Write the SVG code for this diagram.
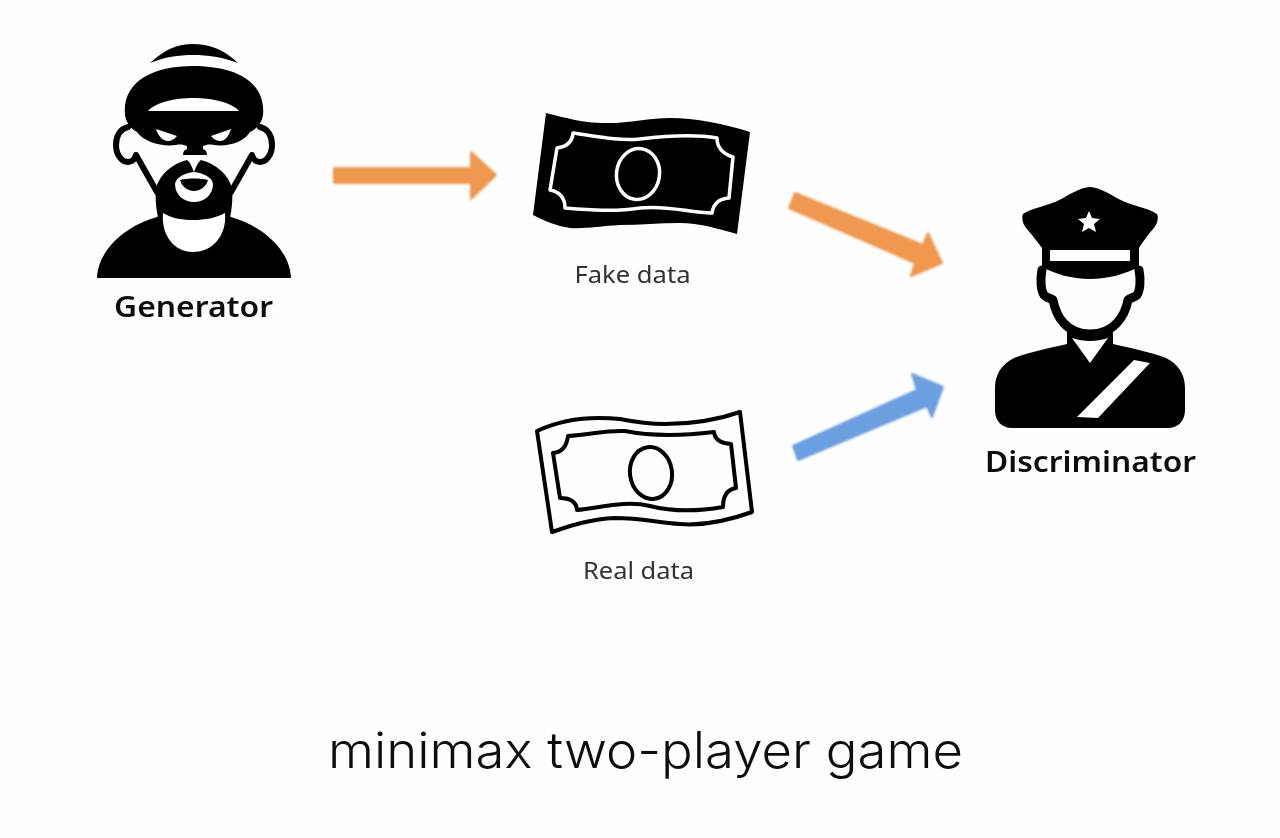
<svg xmlns="http://www.w3.org/2000/svg" width="1280" height="838" viewBox="0 0 1280 838">
<defs>
<filter id="soft" x="-5%" y="-5%" width="110%" height="110%"><feGaussianBlur stdDeviation="0.7"/></filter>
<filter id="softer" x="-5%" y="-10%" width="110%" height="120%"><feGaussianBlur stdDeviation="1"/></filter>
</defs>
<style>
.k{fill:#000}.w{fill:#fff}
.label{font-family:"Noto Sans","DejaVu Sans",sans-serif;font-weight:560;font-size:29px;fill:#111;text-anchor:middle}
.small{font-family:"Noto Sans","DejaVu Sans",sans-serif;font-size:23px;fill:#333;text-anchor:middle}
.title{font-family:"Inter","Noto Sans",sans-serif;font-weight:300;font-size:50px;fill:#0d0d0d;text-anchor:middle}
.line{fill:none;stroke-linejoin:round;stroke-linecap:round}
.orange{fill:#f0984f;stroke:#f0984f;stroke-width:2;stroke-linejoin:round}
.blue{fill:#6a9fe0;stroke:#6a9fe0;stroke-width:2;stroke-linejoin:round}
</style>
<rect width="1280" height="838" fill="#fefefe"/>
<g id="connectors" filter="url(#softer)">
<path class="orange" d="M334 168H471V152L496 175L471 199V183H334Z"/>
<path class="orange" d="M795 193L923 245L928 233L942 263L911 276L915 263L789 208Z"/>
<path class="blue" d="M793 446L917 390L912 374L943 387L932 417L927 406L798 460Z"/>
</g>
<g id="generator" filter="url(#soft)">
<path class="k" d="M150 63C165 49 178 44 193 44C208 44 224 49 238 63C222 57 208 55 193 55C178 55 165 57 150 63Z"/>
<path class="k" d="M125 115C122 82 152 66 193 66C236 66 266 82 263 115C262 122 258 128 250 132C244 142 228 147 214 145C209 144 206 145 203 146L203 149C206 150 207 152 207 155H183C183 152 184 150 187 149L187 146C184 145 181 144 176 145C162 147 144 142 137 132C130 128 126 122 125 115Z"/>
<path class="w" d="M148 111C156 102 175 98 193 98C212 98 231 102 239 111Z"/>
<path class="w" d="M156 129L177 136C174 140 170 141 168 141C162 141 158 135 156 129Z"/>
<path class="w" d="M231 129L211 136C214 140 218 141 220 141C226 141 229 135 231 129Z"/>
<path class="line" stroke="#000" stroke-width="6" d="M128 127C120 129 116 136 116 145C116 155 122 162 128 162C132 162 135 159 136 155L157 192"/>
<path class="line" stroke="#000" stroke-width="6" d="M260 127C268 129 272 136 272 145C272 155 266 162 260 162C256 162 253 159 252 155L231 192"/>
<path class="k" d="M187 160C172 164 160 174 156 188C155 198 156 208 158 218H230C232 208 233 198 232 188C228 174 216 164 201 160C198 162 196 167 194 172C192 167 190 162 187 160Z"/>
<path class="w" d="M175 184C176 177 185 173 194 172C203 173 212 177 213 184C213 195 204 202 194 202C184 202 175 195 175 184Z"/>
<path class="k" d="M180 180C188 178 200 178 208 180C206 187 200 191 194 191C188 191 182 187 180 180Z"/>
<path class="k" d="M97 278C98 250 125 226 157 217L165 212H223L231 217C263 226 290 250 291 278Z"/>
<path class="w" d="M163 213C172 218 180 220 193 220C206 220 215 218 225 213C227 235 213 252 193 252C174 252 161 235 163 213Z"/>
<text class="label" x="193.500" y="317" textLength="159" lengthAdjust="spacingAndGlyphs">Generator</text>
</g>
<g id="fake-data" filter="url(#soft)">
<path class="k" d="M546 113C565 118 585 123 603 123C625 124 650 118 670 118C695 118 725 124 750 132L737 234C715 228 700 223 680 223C660 223 640 225 620 225C600 226 585 229 570 228C556 226 545 221 533 215Z"/>
<path class="line" stroke="#fff" stroke-width="3.500" d="M573 133C600 137 620 141 640 139C665 136 695 134 717 138Q717 152 733 157L729 198Q714 199 712 213C690 213 668 205 640 208C615 212 590 210 565 208Q565 193 550 190L557 148Q572 146 573 133Z"/>
<ellipse cx="638" cy="174" rx="21.500" ry="25.500" transform="rotate(8 638 174)" fill="none" stroke="#fff" stroke-width="3.500"/>
<text class="small" x="632.500" y="283" textLength="116" lengthAdjust="spacingAndGlyphs">Fake data</text>
</g>
<g id="real-data" filter="url(#soft)">
<path class="line" stroke="#000" stroke-width="4" d="M537 431C560 420 590 416 620 419C640 423 650 424 665 424C695 424 720 419 740 412L752 512C730 520 705 526 680 524C655 522 640 518 615 518C590 519 570 526 552 532Z"/>
<path class="line" stroke="#000" stroke-width="4" d="M568 436C590 435 605 430 625 431C650 436 680 436 714 432Q715 443 731 444L736 488Q723 490 723 507C695 512 670 511 650 506C625 500 600 508 577 510Q576 498 560 498L553 453Q566 452 568 436Z"/>
<ellipse cx="651" cy="473" rx="21" ry="26" transform="rotate(-8 651 473)" fill="none" stroke="#000" stroke-width="4"/>
<text class="small" x="638.500" y="579" textLength="111" lengthAdjust="spacingAndGlyphs">Real data</text>
</g>
<g id="discriminator" filter="url(#soft)">
<path class="k" d="M1090 187C1100 187 1112 196 1125 202C1138 207 1150 209 1157 214C1159 218 1157 225 1153 229C1148 235 1143 241 1139 248V267C1125 274 1108 279 1090 279C1072 279 1055 274 1042 267V248C1037 241 1032 235 1027 229C1023 225 1021 218 1023 214C1030 209 1042 207 1055 202C1068 196 1080 187 1090 187Z"/>
<rect class="w" x="1050" y="250" width="80" height="11"/>
<path class="w" d="M1089 211L1092 218L1100 219L1094 224L1096 232L1089 228L1082 232L1084 224L1078 219L1086 218Z"/>
<path class="line" stroke="#000" stroke-width="9" d="M1042 270C1040 280 1041 291 1044 295C1047 298 1050 298 1053 300C1056 316 1066 334 1090 334C1114 334 1125 316 1128 300C1130 298 1134 298 1137 295C1140 291 1141 280 1139 270"/>
<path class="k" d="M1067 325L1074 332H1106L1113 325V344C1130 348 1150 352 1166 358C1178 364 1185 374 1185 388V410C1185 421 1178 428 1168 428H1012C1002 428 995 421 995 410V388C995 374 1002 364 1014 358C1030 352 1050 348 1067 344Z"/>
<path class="w" d="M1072 338C1084 342 1096 342 1108 338L1090 363Z"/>
<path class="w" d="M1134 360L1150 363L1098 418L1077 417Z"/>
<text class="label" x="1090.500" y="472" textLength="211" lengthAdjust="spacingAndGlyphs">Discriminator</text>
</g>
<g filter="url(#soft)"><text class="title" x="645.500" y="768" textLength="635" lengthAdjust="spacingAndGlyphs">minimax two-player game</text></g>
</svg>
